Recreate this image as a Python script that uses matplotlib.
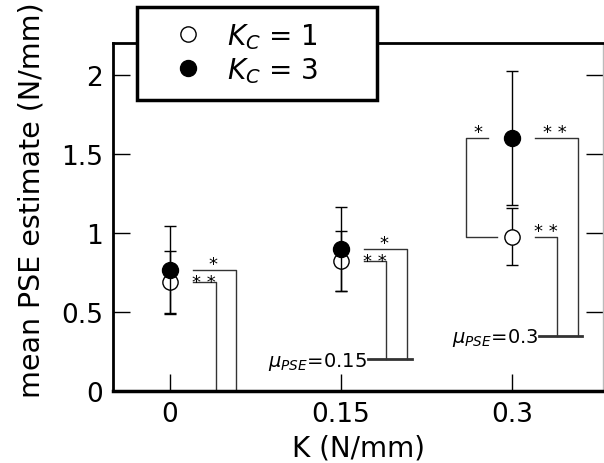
import matplotlib
matplotlib.use('Agg')
import matplotlib.pyplot as plt
from matplotlib.lines import Line2D
from matplotlib.patches import Rectangle

plt.rcParams['font.family'] = ['DejaVu Sans']
plt.rcParams['mathtext.fontset'] = 'dejavusans'

# data
K = [0, 0.15, 0.3]
mean_kc1 = [0.69, 0.823, 0.975]
err_kc1 = [0.196, 0.19, 0.18]
mean_kc3 = [0.766, 0.90, 1.60]
err_kc3 = [0.278, 0.265, 0.425]

# significance marks (vs mu_PSE) and base level of the brackets
sig_kc1 = ['* *', '* *', '* *']
sig_kc3 = ['*', '*', '* *']
mu_labels = ['', r'$\mu_{PSE}$=0.15', r'$\mu_{PSE}$=0.3']
base_y = [0, 0.2, 0.35]

fig = plt.figure(figsize=(6.04, 4.64), dpi=100)
ax = fig.add_axes([113/604, 72/464, 490/604, 348/464])

# error bars + markers
ax.errorbar(K, mean_kc1, yerr=err_kc1, fmt='o', ms=11, mfc='white', mec='black',
            mew=1, ecolor='black', elinewidth=1, capsize=4.5, capthick=1, zorder=3)
ax.errorbar(K, mean_kc3, yerr=err_kc3, fmt='o', ms=11.5, mfc='black', mec='black',
            ecolor='black', elinewidth=1, capsize=4.5, capthick=1, zorder=4)

# brackets to mu_PSE
lc = '#333333'
for k, m1, m3, s1, s3, b, lab in zip(K, mean_kc1, mean_kc3, sig_kc1, sig_kc3, base_y, mu_labels):
    ax.plot([k + 0.02, k + 0.04, k + 0.04], [m1, m1, b], color=lc, lw=1, clip_on=False)
    ax.plot([k + 0.02, k + 0.058, k + 0.058], [m3, m3, b], color=lc, lw=1, clip_on=False)
    d1 = 0.035 if m3 - m1 > 0.2 else 0.0
    ax.text(k + 0.03, m1 + d1, s1, ha='center', va='center', fontsize=13)
    ax.text(k + 0.038, m3 + 0.035, s3, ha='center', va='center', fontsize=13)
    if lab:
        ax.plot([k + 0.024, k + 0.062], [b, b], color=lc, lw=2, clip_on=False)
        ax.text(k + 0.023, b - 0.042, lab, ha='right', va='baseline', fontsize=14)

# Kc=1 vs Kc=3 at K=0.3
k = K[2]
ax.plot([k - 0.021, k - 0.04, k - 0.04, k - 0.013],
        [mean_kc3[2], mean_kc3[2], mean_kc1[2], mean_kc1[2]], color=lc, lw=1)
ax.text(k - 0.03, mean_kc3[2] + 0.04, '*', ha='center', va='center', fontsize=13)

ax.set_xlim(-0.05, 0.38)
ax.set_ylim(0, 2.2)
ax.set_xticks(K)
ax.set_xticklabels(['0', '0.15', '0.3'])
ax.set_yticks([0, 0.5, 1, 1.5, 2])
ax.set_yticklabels(['0', '0.5', '1', '1.5', '2'])
ax.tick_params(direction='in', length=12, width=1, labelsize=19, pad=7,
               right=True, top=False)
ax.set_xlabel('K (N/mm)', fontsize=20, labelpad=5)
ax.set_ylabel('mean PSE estimate (N/mm)', fontsize=20.5)
ax.yaxis.set_label_coords(-0.138, 0.55)

ax.spines['left'].set_linewidth(2)
ax.spines['bottom'].set_linewidth(2.5)
ax.spines['top'].set_linewidth(2)
ax.spines['right'].set_linewidth(1)
ax.spines['right'].set_color('#bbbbbb')

# legend box
fig.add_artist(Rectangle((137/604, 1 - 101/464), 240/604, 93/464,
                         transform=fig.transFigure, facecolor='white',
                         edgecolor='black', lw=2.5, zorder=5))
handles = [Line2D([], [], ls='none', marker='o', ms=11, mfc='white', mec='black', mew=1),
           Line2D([], [], ls='none', marker='o', ms=11.5, mfc='black', mec='black')]
leg = fig.legend(handles, [r'$K_C$ = 1', r'$K_C$ = 3'], loc='upper left',
                 bbox_to_anchor=(174/604, 1 - 22/464), frameon=False, fontsize=20,
                 handlelength=1, handletextpad=0.9, labelspacing=0.15,
                 borderpad=0, borderaxespad=0)
leg.set_zorder(6)

fig.savefig('out.png', dpi=100)
